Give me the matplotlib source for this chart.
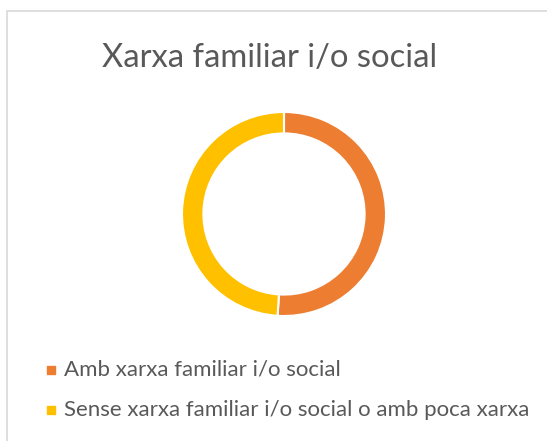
import matplotlib.pyplot as plt
from matplotlib.patches import Rectangle

# dades
labels = ["Amb xarxa familiar i/o social",
          "Sense xarxa familiar i/o social o amb poca xarxa"]
values = [51, 49]
colors = ["#ED7D31", "#FFC000"]
title = "Xarxa familiar i/o social"

W, H = 547, 441
fig = plt.figure(figsize=(W / 100, H / 100), dpi=100)
plt.rcParams['font.family'] = ['Lato', 'DejaVu Sans']

# marc del grafic
fig.patches.append(Rectangle((7 / W, -0.1), 1.2, 1 - 11 / H + 0.1, transform=fig.transFigure,
                             fill=False, edgecolor="#d9d9d9", linewidth=1.2))

# donut
cx, cy, r = 284, 214, 102
ax = fig.add_axes([(cx - r) / W, (H - cy - r) / H, 2 * r / W, 2 * r / H])
ax.pie(values, colors=colors, startangle=90, counterclock=False,
       wedgeprops=dict(width=0.21, edgecolor="white", linewidth=1.5))
ax.set_xlim(-1, 1)
ax.set_ylim(-1, 1)
ax.set_aspect('equal')
ax.axis('off')

fig.text(270 / W, 1 - 67 / H, title, ha='center', va='baseline',
         fontsize=23.6, color="#595959")

# llegenda
ys = [370, 410]
for lab, col, y in zip(labels, colors, ys):
    fig.patches.append(Rectangle((47 / W, 1 - (y + 4) / H), 8 / W, 8 / H,
                                 transform=fig.transFigure, color=col))
    fig.text(64 / W, 1 - y / H, lab, ha='left', va='center',
             fontsize=16, color="#595959")

fig.savefig("out.png", dpi=100)
